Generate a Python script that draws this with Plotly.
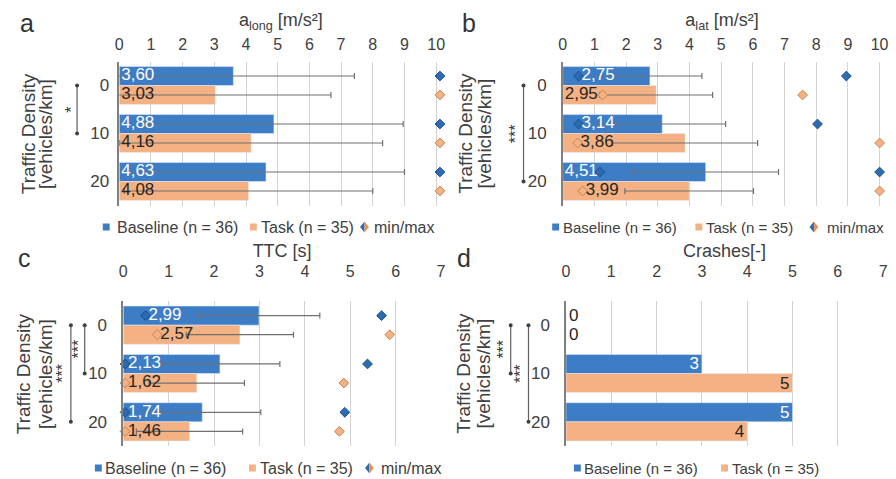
import plotly.graph_objects as go

# ---------------- data ----------------
DENSITY = ["0", "10", "20"]

ALONG_BASELINE = [3.60, 4.88, 4.63]
ALONG_TASK = [3.03, 4.16, 4.08]
ALONG_BASELINE_SD = [3.82, 4.08, 4.37]
ALONG_TASK_SD = [3.65, 4.15, 3.92]
ALONG_BASELINE_MIN = [None, None, None]
ALONG_TASK_MIN = [None, None, None]
ALONG_BASELINE_MAX = [10.12, 10.12, 10.12]
ALONG_TASK_MAX = [10.12, 10.12, 10.12]

ALAT_BASELINE = [2.75, 3.14, 4.51]
ALAT_TASK = [2.95, 3.86, 3.99]
ALAT_BASELINE_SD = [1.64, 2.00, 2.30]
ALAT_TASK_SD = [1.78, 2.29, 2.03]
ALAT_BASELINE_MIN = [0.50, 0.50, 1.17]
ALAT_TASK_MIN = [1.26, 0.47, 0.63]
ALAT_BASELINE_MAX = [8.95, 8.04, 10.0]
ALAT_TASK_MAX = [7.57, 10.0, 10.0]

TTC_BASELINE = [2.99, 2.13, 1.74]
TTC_TASK = [2.57, 1.62, 1.46]
TTC_BASELINE_SD = [1.34, 1.32, 1.29]
TTC_TASK_SD = [1.18, 1.05, 1.17]
TTC_BASELINE_MIN = [0.49, 0.04, 0.04]
TTC_TASK_MIN = [0.75, 0.04, 0.04]
TTC_BASELINE_MAX = [5.69, 5.38, 4.88]
TTC_TASK_MAX = [5.87, 4.86, 4.76]

CRASH_BASELINE = [0, 3, 5]
CRASH_TASK = [0, 5, 4]

BASELINE_LABEL = "Baseline (n = 36)"
TASK_LABEL = "Task (n = 35)"
MINMAX_LABEL = "min/max"

# ---------------- style ----------------
W, H = 896, 479
FONT = "Liberation Sans, Arial, sans-serif"
TXT = "#404040"
DARK = "#262626"
BLUE = "#3D7DC6"
ORANGE = "#F4B183"
BLUE_D = "#2B6BB2"
BLUE_DL = "#1F4F88"
ORANGE_DL = "#C8844F"
GRID = "#d3d3d3"
AXIS = "#808080"
ERR = "#707070"
BARGAP = 0.21
HALF = (1 - BARGAP) / 4
LABEL_PAD_PX = 2      # label start after bar base
DIA_PAD_PX = 3        # label start after a min diamond near the base
NEAR_BASE = 1.0       # a min diamond closer than this to the base pushes the label right


def px(x):
    return x / W


def py(y):
    return 1 - y / H


def comma(v):
    return "{:.2f}".format(v).replace(".", ",")


pos = list(range(len(DENSITY)))

panels = [
    dict(sfx="", letter="a", title="a<sub>long</sub> [m/s²]", xmax=10, xext=0.2,
         base=ALONG_BASELINE, task=ALONG_TASK, bsd=ALONG_BASELINE_SD, tsd=ALONG_TASK_SD,
         bmin=ALONG_BASELINE_MIN, tmin=ALONG_TASK_MIN, bmax=ALONG_BASELINE_MAX, tmax=ALONG_TASK_MAX,
         x0=116.7, xu=32.08, yd=(61.5, 205.5), tstand=7, ystand=5, titstand=4,
         letter_xy=(23, 23), ytitle_x=(25, 42),
         brackets=[(74, 0, 1, "*", 68)],
         legend_y=227, legend=[("sq", 100, 112), ("sq", 249, 258), ("dia", 365, 373)], lfs=16),
    dict(sfx="2", letter="b", title="a<sub>lat</sub> [m/s²]", xmax=10, xext=0.05,
         base=ALAT_BASELINE, task=ALAT_TASK, bsd=ALAT_BASELINE_SD, tsd=ALAT_TASK_SD,
         bmin=ALAT_BASELINE_MIN, tmin=ALAT_TASK_MIN, bmax=ALAT_BASELINE_MAX, tmax=ALAT_TASK_MAX,
         x0=565.7, xu=32.08, yd=(61.5, 205.5), tstand=7, ystand=11, titstand=4,
         letter_xy=(471, 23), ytitle_x=(467, 486),
         brackets=[(526, 0, 2, "***", 518)],
         legend_y=227, legend=[("sq", 555, 564), ("sq", 700, 709), ("dia", 820, 831)], lfs=15),
    dict(sfx="3", letter="c", title="TTC [s]", xmax=7, xext=0,
         base=TTC_BASELINE, task=TTC_TASK, bsd=TTC_BASELINE_SD, tsd=TTC_TASK_SD,
         bmin=TTC_BASELINE_MIN, tmin=TTC_TASK_MIN, bmax=TTC_BASELINE_MAX, tmax=TTC_TASK_MAX,
         x0=120.7, xu=45.97, yd=(301, 446), tstand=20, ystand=11, titstand=0,
         letter_xy=(21, 258), ytitle_x=(20, 42),
         brackets=[(67.7, 0, 2, "***", 59), (81.7, 0, 1, "***", 75)],
         legend_y=468, legend=[("sq", 92, 100), ("sq", 248, 257), ("dia", 370, 380)], lfs=16),
    dict(sfx="4", letter="d", title="Crashes[-]", xmax=7, xext=0,
         base=CRASH_BASELINE, task=CRASH_TASK, bsd=None, tsd=None,
         bmin=None, tmin=None, bmax=None, tmax=None,
         x0=569, xu=45.86, yd=(301, 446), tstand=20, ystand=11, titstand=0,
         letter_xy=(466, 258), ytitle_x=(465, 485),
         brackets=[(513, 0, 1, "***", 505.5), (531, 0, 2, "***", 523)],
         legend_y=468, legend=[("sq", 577, 585), ("sq", 726, 735)], lfs=15),
]

fig = go.Figure()
shapes = []
annotations = []
layout = {}

for p in panels:
    xa, ya = "x" + p["sfx"], "y" + p["sfx"]
    crash = p["bsd"] is None
    common = dict(orientation="h", y=pos, xaxis=xa, yaxis=ya, showlegend=False,
                  textangle=0, constraintext="none", hoverinfo="skip")
    if crash:
        tpos_b = ["outside" if v == 0 else "inside" for v in p["base"]]
        tpos_t = ["outside" if v == 0 else "inside" for v in p["task"]]
        col_b = [DARK if v == 0 else "white" for v in p["base"]]
        fig.add_trace(go.Bar(x=p["base"], name=BASELINE_LABEL, marker_color=BLUE,
                             texttemplate="%{x}", textposition=tpos_b, insidetextanchor="end",
                             textfont=dict(size=17, color=col_b, family=FONT), cliponaxis=False, **common))
        fig.add_trace(go.Bar(x=p["task"], name=TASK_LABEL, marker_color=ORANGE,
                             texttemplate="%{x}", textposition=tpos_t, insidetextanchor="end",
                             textfont=dict(size=17, color=DARK, family=FONT), cliponaxis=False, **common))
    else:
        fig.add_trace(go.Bar(x=p["base"], name=BASELINE_LABEL, marker_color=BLUE,
                             error_x=dict(type="data", array=p["bsd"], color=ERR, thickness=1.2, width=3),
                             **common))
        fig.add_trace(go.Bar(x=p["task"], name=TASK_LABEL, marker_color=ORANGE,
                             error_x=dict(type="data", array=p["tsd"], color=ERR, thickness=1.2, width=3),
                             **common))
        fig.add_trace(go.Scatter(x=p["bmin"] + p["bmax"], y=[v - HALF for v in pos] * 2,
                                 mode="markers", xaxis=xa, yaxis=ya, showlegend=False, name=MINMAX_LABEL,
                                 marker=dict(symbol="diamond", size=7.5, color=BLUE_D,
                                             line=dict(color=BLUE_DL, width=1)),
                                 cliponaxis=False, hoverinfo="skip"))
        fig.add_trace(go.Scatter(x=p["tmin"] + p["tmax"], y=[v + HALF for v in pos] * 2,
                                 mode="markers", xaxis=xa, yaxis=ya, showlegend=False, name=MINMAX_LABEL,
                                 marker=dict(symbol="diamond", size=7.5, color=ORANGE,
                                             line=dict(color=ORANGE_DL, width=1)),
                                 cliponaxis=False, hoverinfo="skip"))
        # value labels at the bar base, nudged past a min diamond sitting at the base
        for vals, mins, sign, col in ((p["base"], p["bmin"], -1, "white"), (p["task"], p["tmin"], 1, DARK)):
            lx = [(m + DIA_PAD_PX / p["xu"]) if (m is not None and m < NEAR_BASE) else LABEL_PAD_PX / p["xu"]
                  for m in mins]
            fig.add_trace(go.Scatter(x=lx, y=[v + sign * HALF for v in pos], mode="text",
                                     text=[comma(v) for v in vals], textposition="middle right",
                                     textfont=dict(size=17, color=col, family=FONT),
                                     xaxis=xa, yaxis=ya, showlegend=False, cliponaxis=False,
                                     hoverinfo="skip"))

    xr = p["xmax"] + p["xext"]
    layout["xaxis" + p["sfx"]] = dict(
        domain=[px(p["x0"]), px(p["x0"] + xr * p["xu"])], range=[0, xr],
        tickvals=list(range(p["xmax"] + 1)), side="top",
        anchor=ya, showgrid=True, gridcolor=GRID, gridwidth=1, zeroline=False, showline=False,
        ticks="", tickfont=dict(size=16, color=TXT), ticklabelstandoff=p["tstand"],
        title=dict(text=p["title"], font=dict(size=18, color=TXT), standoff=p["titstand"]),
        fixedrange=True)
    layout["yaxis" + p["sfx"]] = dict(
        domain=[py(p["yd"][1]), py(p["yd"][0])], range=[len(pos) - 0.5, -0.5],
        tickvals=pos, ticktext=DENSITY, anchor=xa, showline=True, linecolor=AXIS, linewidth=1.5,
        showgrid=False, zeroline=False, ticks="", tickfont=dict(size=17, color=TXT),
        ticklabelstandoff=p["ystand"], fixedrange=True)

    # panel letter
    annotations.append(dict(text=p["letter"], x=px(p["letter_xy"][0]), y=py(p["letter_xy"][1]),
                            xref="paper", yref="paper", showarrow=False, xanchor="center",
                            yanchor="middle", font=dict(size=25, color="#333333")))
    # y title (two lines)
    ymid = (p["yd"][0] + p["yd"][1]) / 2
    for txt, xx in zip(["Traffic Density", "[vehicles/km]"], p["ytitle_x"]):
        annotations.append(dict(text=txt, x=px(xx), y=py(ymid), xref="paper", yref="paper",
                                showarrow=False, textangle=-90, xanchor="center", yanchor="middle",
                                font=dict(size=19, color=TXT)))
    # significance brackets
    for bx, r0, r1, stars, sx in p["brackets"]:
        shapes.append(dict(type="line", xref="paper", yref=ya, x0=px(bx), x1=px(bx), y0=r0, y1=r1,
                           line=dict(color="#606060", width=1.2)))
        for r in (r0, r1):
            shapes.append(dict(type="circle", xref="paper", yref=ya, xsizemode="pixel",
                               ysizemode="pixel", xanchor=px(bx), yanchor=r, x0=-2, x1=2, y0=-2, y1=2,
                               fillcolor="#404040", line=dict(width=0)))
        annotations.append(dict(text=stars, x=px(sx), y=(r0 + r1) / 2, xref="paper", yref=ya,
                                showarrow=False, textangle=-90, xanchor="center", yanchor="middle",
                                font=dict(size=16, color="#333333")))
    # manual legend
    ly = p["legend_y"]
    labels = [BASELINE_LABEL, TASK_LABEL, MINMAX_LABEL]
    colors = [BLUE, ORANGE]
    for i, (kind, sx0, tx) in enumerate(p["legend"]):
        if kind == "sq":
            shapes.append(dict(type="rect", xref="paper", yref="paper", x0=px(sx0), x1=px(sx0 + 7),
                               y0=py(ly + 3.5), y1=py(ly - 3.5), fillcolor=colors[i], line=dict(width=0)))
        else:
            cx, w, h = sx0, 4.5, 5.5
            lpath = "M{},{} L{},{} L{},{} Z".format(px(cx), py(ly - h), px(cx - w), py(ly), px(cx), py(ly + h))
            rpath = "M{},{} L{},{} L{},{} Z".format(px(cx), py(ly - h), px(cx + w), py(ly), px(cx), py(ly + h))
            shapes.append(dict(type="path", xref="paper", yref="paper", path=lpath,
                               fillcolor=BLUE_D, line=dict(width=0)))
            shapes.append(dict(type="path", xref="paper", yref="paper", path=rpath,
                               fillcolor="#E9935A", line=dict(width=0)))
        annotations.append(dict(text=labels[i], x=px(tx), y=py(ly), xref="paper", yref="paper",
                                showarrow=False, xanchor="left", yanchor="middle",
                                font=dict(size=p["lfs"], color=TXT)))

fig.update_layout(
    width=W, height=H, margin=dict(l=0, r=0, t=0, b=0),
    paper_bgcolor="white", plot_bgcolor="white",
    font=dict(family=FONT, color=TXT),
    barmode="group", bargap=BARGAP, bargroupgap=0,
    separators=",.", showlegend=False,
    shapes=shapes, annotations=annotations,
    **layout,
)

fig.write_html("out.html", config={"displayModeBar": False},
               post_script="document.body.style.margin='0';")
